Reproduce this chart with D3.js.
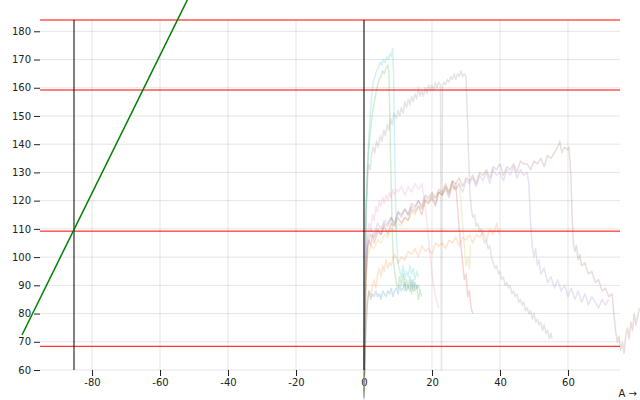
<!DOCTYPE html>
<html><head><meta charset="utf-8">
<script src="https://cdn.jsdelivr.net/npm/d3@7"></script>
<style>body{margin:0;background:#fff}svg{display:block;font-family:"DejaVu Sans",sans-serif;font-size:10px}</style>
</head><body><svg id="c" width="640" height="400"></svg>
<script>
const xTicks = [-80,-60,-40,-20,0,20,40,60];
const yTicks = [60,70,80,90,100,110,120,130,140,150,160,170,180];
const xDomain = [-95.3, 75.3];
const yDomain = [60, 184];
const redRules = [184, 159.2, 109.2, 68.4];
const blackRules = [-85.3, 0];
const greenLine = [[-100.6, 72.4], [-50, 195.9]];
const seriesColors = ["#1f77b4","#ff7f0e","#2ca02c","#d62728","#9467bd","#8c564b","#e377c2","#7f7f7f","#bcbd22","#17becf"];

const s1 = [[0,50],[0.5,72],[1,84],[1.5,88],[2,85],[2.5,87],[3,86],[3.5,88],[4,86],[4.5,87],[5,85],[5.5,88],[6,87],[6.5,86],[7,88],[7.5,87],[8,89],[8.5,86],[9,88],[9.5,89],[10,87],[10.5,90],[11,88],[11.5,89],[12,91],[12.5,88],[13,90],[13.5,88],[14,92],[14.5,88],[15,91],[15.5,89],[16,90],[16.5,88]];
const s2 = [[0,52],[0.5,75],[1,84],[1.5,88],[2,86],[2.5,90],[3,92],[3.5,89],[4,94],[4.5,96],[5,93],[5.5,97],[6,95],[6.5,99],[7,96],[7.5,98],[8,97],[9,101],[10,98],[11,100],[12,99],[13,102],[14,101],[15,103],[16,100],[17,104],[18,102],[19,103],[20,101],[21,105],[22,104],[23,105],[24,103],[25,106],[26,105],[27,107],[28,104],[29,107],[30,106],[31,108],[32,105],[33,108],[34,107],[35,109],[36,106],[37,110],[38,108],[39,112],[39.5,109],[40,108]];
const s3 = [[0,52],[0.3,90],[0.6,115],[1,130],[1.5,140],[2,146],[2.5,151],[3,155],[3.5,158],[4,161],[4.5,163],[5,164],[5.5,166],[6,165],[6.5,167],[7,168],[7.3,166],[7.6,150],[8,125],[8.3,110],[8.6,100],[9,95],[9.5,91],[10,89],[10.5,93],[11,90],[11.5,94],[12,88],[12.5,92],[13,89],[13.5,93],[14,87],[14.5,92],[15,88],[15.5,90],[16,85],[16.5,88],[17,86]];
const s4 = [[0,50],[0.5,90],[1,102],[1.5,106],[2,104],[2.5,108],[3,105],[4,109],[5,108],[6,111],[7,108],[8,112],[9,111],[10,114],[11,112],[12,114],[13,113],[14,117],[15,116],[16,118],[17,115],[18,120],[19,119],[20,121],[21,118],[22,123],[23,122],[24,125],[25,122],[26,127],[26.5,124],[27,126],[27.5,118],[28,110],[28.5,104],[29,98],[29.5,92],[30,94],[30.5,86],[31,88],[31.5,82],[32,80]];
const s5 = [[0,52],[0.5,95],[1,106],[2,110],[3,108],[4,112],[5,110],[6,113],[7,112],[8,114],[9,111],[10,116],[11,114],[12,117],[13,115],[14,118],[15,117],[16,120],[17,117],[18,121],[19,120],[20,122],[21,119],[22,123],[23,122],[24,124],[25,121],[26,125],[27,124],[28,126],[29,123],[30,127],[31,126],[32,128],[33,125],[34,129],[35,127],[36,130],[37,126],[38,131],[39,129],[40,130],[41,127],[42,131],[43,129],[44,132],[45,128],[46,131],[47,129],[48,130],[48.5,126],[49,112],[49.5,104],[50,100],[50.5,103],[51,97],[51.5,99],[52,94],[53,96],[54,91],[55,93],[56,89],[57,92],[58,88],[59,90],[60,86],[61,89],[62,85],[63,88],[64,84],[65,87],[66,83],[67,86],[68,84],[69,82],[70,85],[71,83],[72,85]];
const s6 = [[0,51],[0.5,92],[1,104],[2,108],[3,107],[4,110],[5,108],[6,112],[7,111],[8,114],[9,112],[10,116],[11,115],[12,117],[13,115],[14,119],[15,118],[16,120],[17,118],[18,122],[19,121],[20,123],[21,121],[22,124],[23,123],[24,126],[25,123],[26,127],[27,126],[28,128],[29,125],[30,128],[31,127],[32,129],[33,126],[34,130],[35,129],[36,131],[37,128],[38,132],[39,131],[40,133],[41,129],[42,132],[43,131],[44,133],[45,130],[46,134],[47,133],[48,133],[49,131],[50,134],[51,133],[52,135],[53,132],[54,136],[55,135],[56,137],[57,139],[57.6,141],[58.2,137],[59,139],[59.8,138],[60.3,139],[60.8,130],[61.2,115],[61.6,105],[62,102],[62.5,104],[63,99],[63.5,101],[64,97],[65,98],[66,94],[67,95],[68,91],[69,92],[70,88],[71,89],[72,86],[73,87],[73.5,80],[74,74],[74.5,70],[75,72],[75.5,67],[76,70],[76.5,66],[77,72],[77.5,75],[78,71],[78.5,77],[79,74],[79.5,80],[80,76],[81,82]];
const s7 = [[0,52],[0.5,96],[1,108],[1.5,112],[2,110],[2.5,115],[3,113],[3.5,118],[4,116],[4.5,120],[5,118],[5.5,121],[6,119],[6.5,122],[7,120],[7.5,123],[8,121],[8.5,124],[9,122],[9.5,124],[10,123],[11,125],[12,122],[13,125],[14,123],[15,126],[16,124],[17,126],[17.5,122],[18,118],[18.5,112],[19,106],[19.5,100],[20,94],[20.5,90],[21,86],[21.5,84],[22,82]];
const s8 = [[0,50],[0.3,100],[0.6,118],[1,126],[1.3,133],[1.8,131],[2.2,136],[2.7,139],[3.2,137],[3.7,141],[4.2,139],[4.8,143],[5.3,141],[5.8,145],[6.3,143],[6.8,147],[7.3,145],[7.8,149],[8.3,147],[8.8,151],[9.5,149],[10,152],[10.5,150],[11,153],[11.5,151],[12,155],[12.5,153],[13,156],[13.5,154],[14,157],[14.5,155],[15,158],[15.5,156],[16,160],[16.5,157],[17,159],[17.5,157],[18,160],[18.5,158],[19,161],[19.5,159],[20,161],[20.5,159],[21,162],[21.5,160],[22,162],[22.5,161],[22.8,60],[23.1,161],[23.5,162],[24,161],[24.5,163],[25,162],[25.5,164],[26,163],[26.5,165],[27,163],[27.5,165],[28,164],[28.5,166],[29,164],[29.5,165],[30,164],[30.4,150],[30.8,135],[31.2,122],[31.6,117],[32,114],[32.5,115],[33,111],[33.5,112],[34,109],[34.5,110],[35,107],[35.5,105],[36,106],[36.5,103],[37,104],[37.5,100],[38,98],[38.5,96],[39,97],[39.5,94],[40,95],[40.5,92],[41,93],[41.5,90],[42,91],[42.5,89],[43,90],[43.5,87],[44,88],[44.5,86],[45,87],[45.5,84],[46,85],[46.5,83],[47,84],[47.5,81],[48,82],[48.5,80],[49,81],[49.5,78],[50,80],[50.5,77],[51,78],[51.5,76],[52,77],[52.5,74],[53,76],[53.5,73],[54,74],[54.5,71],[55,73],[55.3,71]];
const s9 = [[0,51],[0.5,88],[1,100],[2,104],[3,103],[4,106],[5,105],[6,108],[7,107],[8,110],[9,109],[10,112],[11,111],[12,114],[13,113],[14,116],[15,115],[16,118],[17,117],[18,120],[19,119],[20,122],[21,121],[22,123],[23,122],[24,125],[25,123],[26,126],[27,124],[28,126],[28.5,120],[29,112],[29.5,104],[30,97],[30.5,100],[31,96],[31.3,104]];
const s10 = [[0,49],[0.3,85],[0.6,115],[1,132],[1.4,142],[1.8,150],[2.2,156],[2.7,162],[3.2,164],[3.7,166],[4.2,167],[4.7,169],[5.2,168],[5.7,170],[6.2,169],[6.7,171],[7.2,170],[7.7,172],[8.1,171],[8.4,174],[8.7,165],[9,140],[9.3,120],[9.6,105],[10,98],[10.5,95],[11,93],[11.5,97],[12,92],[12.5,95],[13,93],[13.5,97],[14,94],[14.5,96],[15,92],[15.5,95],[16,93]];
const seriesList = [s1,s2,s3,s4,s5,s6,s7,s8,s9,s10];

const W = 640, H = 400, mL = 40, mR = 20, mT = 20, mB = 30;
const svg = d3.select("#c");
const x = d3.scaleLinear().domain(xDomain).range([mL, W - mR]);
const y = d3.scaleLinear().domain(yDomain).range([H - mB, mT]);

// grid
svg.append("g").selectAll("line").data(xTicks).join("line")
  .attr("x1", d => x(d)).attr("x2", d => x(d)).attr("y1", mT).attr("y2", H - mB)
  .attr("stroke", "#000").attr("stroke-opacity", 0.1);
svg.append("g").selectAll("line").data(yTicks).join("line")
  .attr("y1", d => y(d)).attr("y2", d => y(d)).attr("x1", mL).attr("x2", W - mR)
  .attr("stroke", "#000").attr("stroke-opacity", 0.1);

// axes
const ax = svg.append("g").attr("transform", `translate(0,${H - mB})`)
  .call(d3.axisBottom(x).tickValues(xTicks).tickSize(6).tickPadding(3).tickFormat(d3.format("d")));
const ay = svg.append("g").attr("transform", `translate(${mL},0)`)
  .call(d3.axisLeft(y).tickValues(yTicks).tickSize(6).tickPadding(3));
[ax, ay].forEach(g => {
  g.select(".domain").remove();
  g.selectAll("text").attr("font-family", "DejaVu Sans, sans-serif").attr("font-size", 10).attr("fill", "#222");
  g.selectAll(".tick line").attr("stroke", "#222");
});
ax.selectAll("text").text(d => d < 0 ? "-" + Math.abs(d) : d);
svg.append("text").attr("x", W - 3).attr("y", H - 3).attr("text-anchor", "end")
  .attr("fill", "#222").text("A →");

// series
const line = d3.line().x(d => x(d[0])).y(d => y(d[1]));
svg.append("g").selectAll("path").data(seriesList).join("path")
  .attr("d", line).attr("fill", "none")
  .attr("stroke", (d, i) => seriesColors[i]).attr("stroke-opacity", 0.2).attr("stroke-width", 1.5)
  .attr("stroke-linejoin", "round");

// rules
svg.append("g").selectAll("line").data(redRules).join("line")
  .attr("x1", mL).attr("x2", W - mR).attr("y1", d => y(d)).attr("y2", d => y(d))
  .attr("stroke", "red");
svg.append("g").selectAll("line").data(blackRules).join("line")
  .attr("x1", d => x(d)).attr("x2", d => x(d)).attr("y1", mT).attr("y2", H - mB)
  .attr("stroke", "#000");
svg.append("path").datum(greenLine).attr("d", line).attr("fill", "none")
  .attr("stroke", "green").attr("stroke-width", 1.5);
</script></body></html>
